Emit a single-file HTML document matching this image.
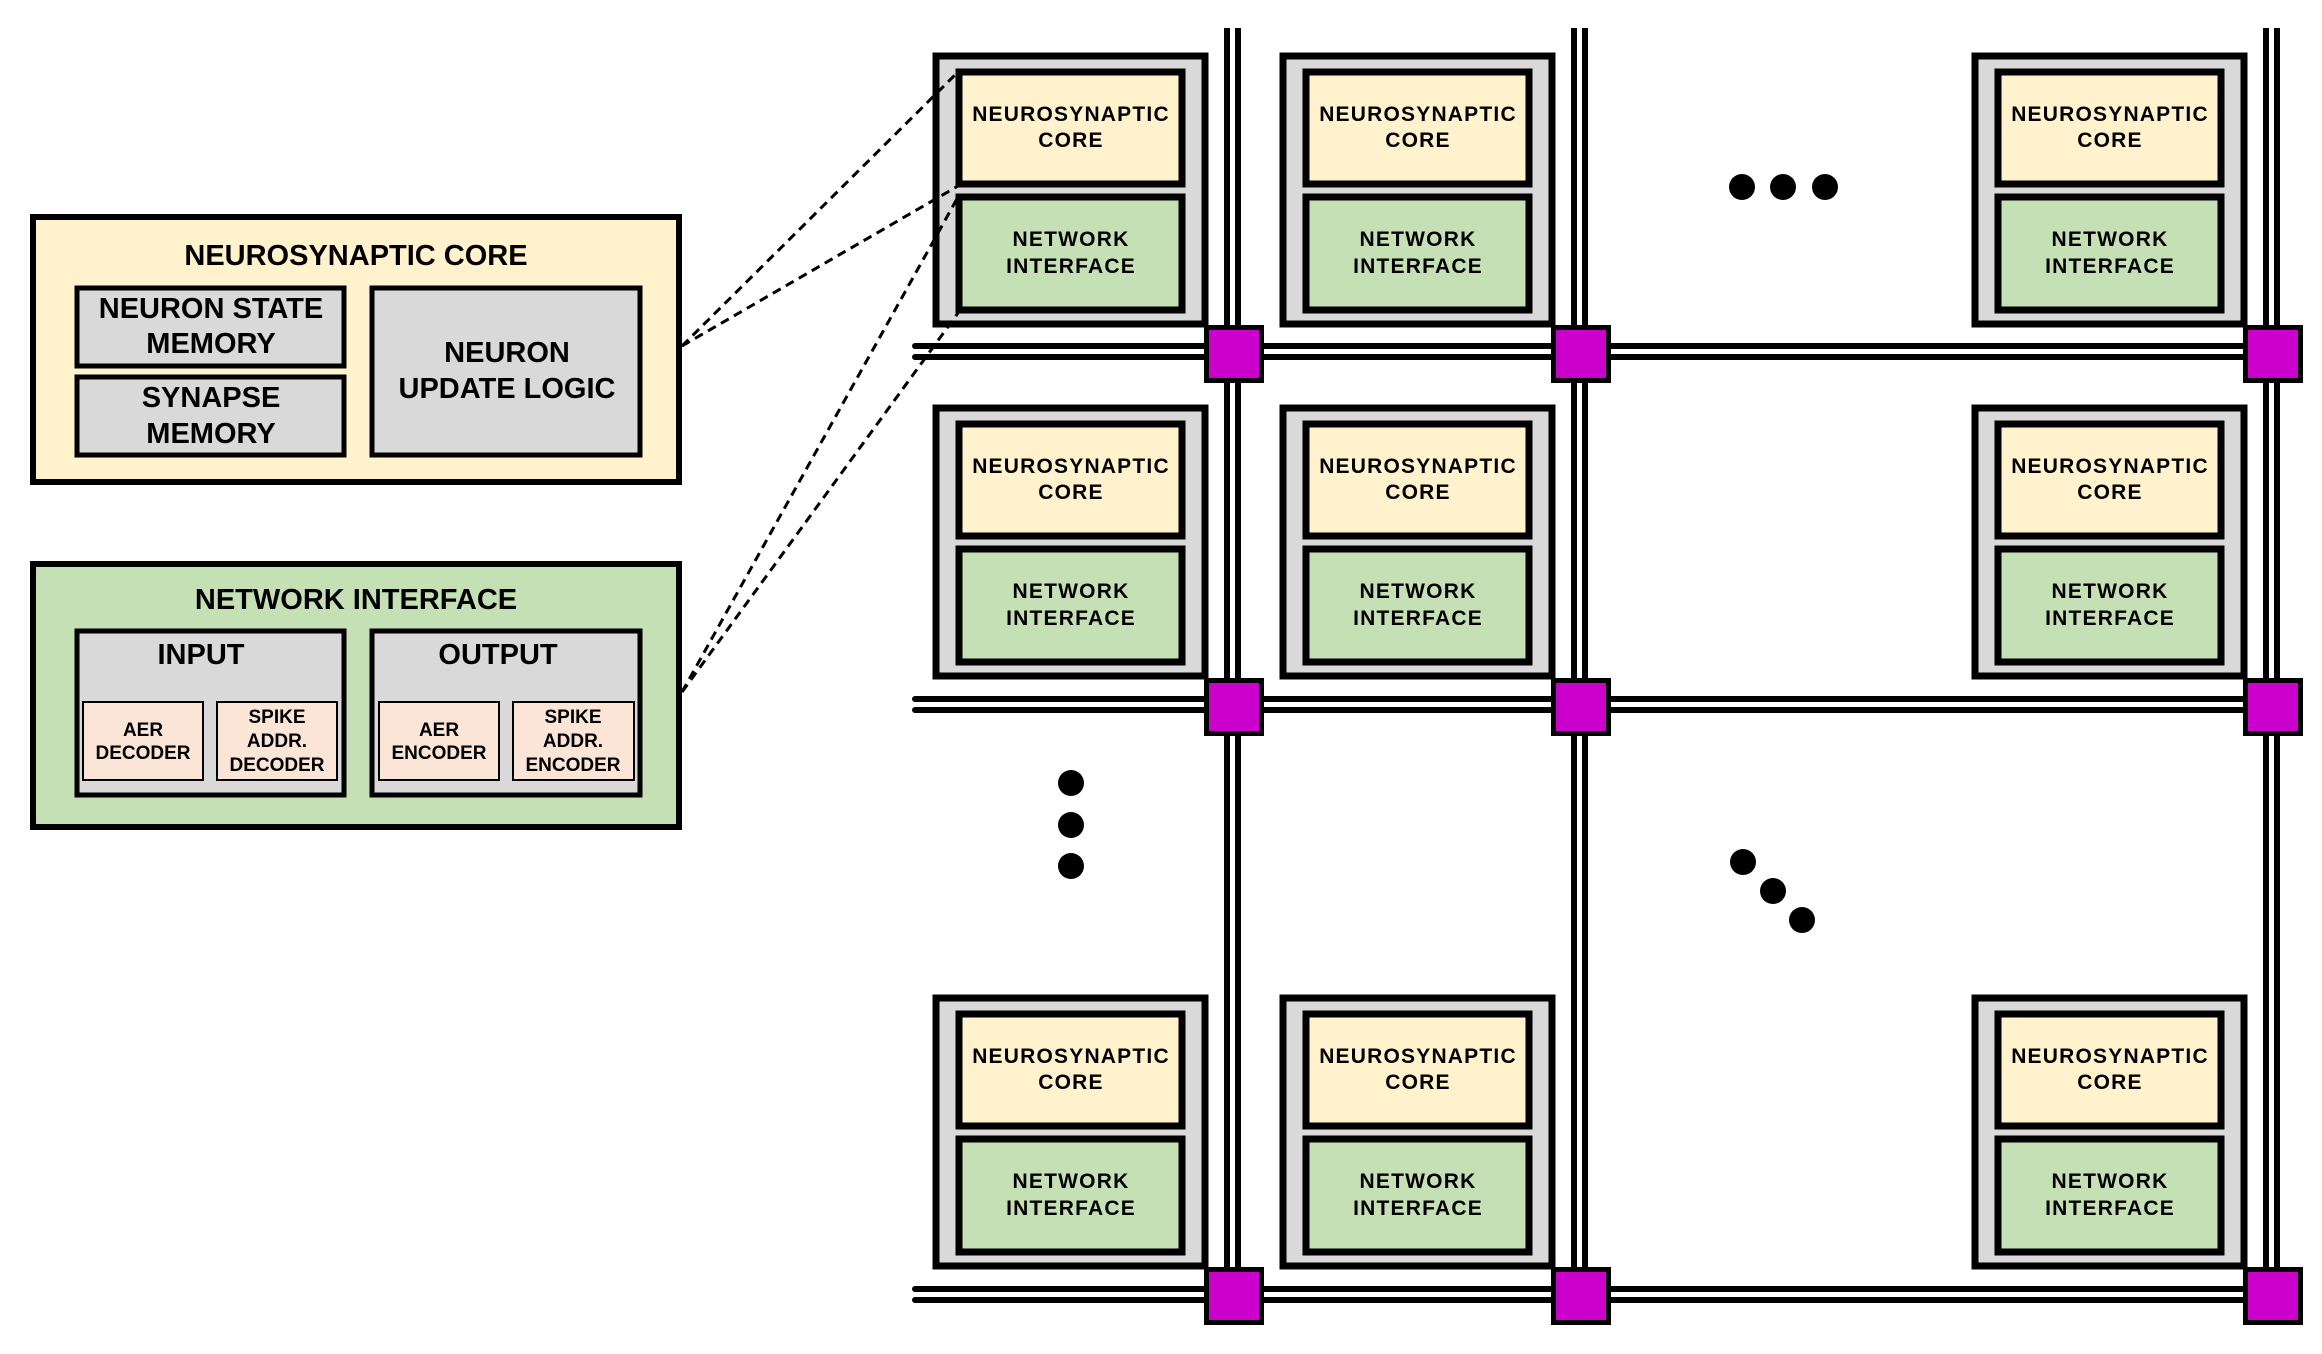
<!DOCTYPE html>
<html><head><meta charset="utf-8"><style>
html,body{margin:0;padding:0;background:#fff;}
svg{display:block;}
text{font-family:"Liberation Sans",Arial,sans-serif;font-weight:bold;fill:#000;text-anchor:middle;}
.t{font-size:21px;letter-spacing:1.2px;}
</style></head><body>
<svg width="2322" height="1354" viewBox="0 0 2322 1354" xmlns="http://www.w3.org/2000/svg">
<rect x="33" y="217" width="646" height="265" fill="#FFF2CC" stroke="#000" stroke-width="6"/>
<text x="356" y="265" font-size="29">NEUROSYNAPTIC CORE</text>
<rect x="77" y="288" width="267" height="78" fill="#D9D9D9" stroke="#000" stroke-width="5"/>
<text x="211" y="318" font-size="29">NEURON STATE</text>
<text x="211" y="353" font-size="29">MEMORY</text>
<rect x="77" y="377" width="267" height="78" fill="#D9D9D9" stroke="#000" stroke-width="5"/>
<text x="211" y="407" font-size="29">SYNAPSE</text>
<text x="211" y="443" font-size="29">MEMORY</text>
<rect x="372" y="288" width="268" height="167" fill="#D9D9D9" stroke="#000" stroke-width="5"/>
<text x="507" y="362" font-size="29">NEURON</text>
<text x="507" y="398" font-size="29">UPDATE LOGIC</text>

<rect x="33" y="564" width="646" height="263" fill="#C5E0B4" stroke="#000" stroke-width="6"/>
<text x="356" y="609" font-size="29">NETWORK INTERFACE</text>
<rect x="77" y="631" width="267" height="164" fill="#D9D9D9" stroke="#000" stroke-width="5"/>
<text x="201" y="664" font-size="29">INPUT</text>
<rect x="372" y="631" width="268" height="164" fill="#D9D9D9" stroke="#000" stroke-width="5"/>
<text x="498" y="664" font-size="29">OUTPUT</text>
<rect x="83" y="702" width="120" height="78" fill="#FBE5D6" stroke="#000" stroke-width="2"/>
<text x="143" y="736" font-size="19">AER</text><text x="143" y="759" font-size="19">DECODER</text>
<rect x="217" y="702" width="120" height="78" fill="#FBE5D6" stroke="#000" stroke-width="2"/>
<text x="277" y="723" font-size="19">SPIKE</text><text x="277" y="747" font-size="19">ADDR.</text><text x="277" y="771" font-size="19">DECODER</text>
<rect x="379" y="702" width="120" height="78" fill="#FBE5D6" stroke="#000" stroke-width="2"/>
<text x="439" y="736" font-size="19">AER</text><text x="439" y="759" font-size="19">ENCODER</text>
<rect x="513" y="702" width="121" height="78" fill="#FBE5D6" stroke="#000" stroke-width="2"/>
<text x="573" y="723" font-size="19">SPIKE</text><text x="573" y="747" font-size="19">ADDR.</text><text x="573" y="771" font-size="19">ENCODER</text>

<g fill="#000">
<rect x="1224" y="28" width="6" height="1240"/><rect x="1235" y="28" width="6" height="1240"/>
<rect x="1571" y="28" width="6" height="1240"/><rect x="1582" y="28" width="6" height="1240"/>
<rect x="2263" y="28" width="6" height="1240"/><rect x="2274" y="28" width="6" height="1240"/>
<rect x="912" y="343" width="1360" height="6" rx="3"/><rect x="912" y="354" width="1360" height="6" rx="3"/>
<rect x="912" y="696" width="1360" height="6" rx="3"/><rect x="912" y="707" width="1360" height="6" rx="3"/>
<rect x="912" y="1286" width="1360" height="6" rx="3"/><rect x="912" y="1297" width="1360" height="6" rx="3"/>
</g>

<defs>
<g id="tile">
<rect x="3" y="3" width="269" height="268" fill="#D9D9D9" stroke="#000" stroke-width="7"/>
<rect x="26" y="19" width="223" height="112" fill="#FFF2CC" stroke="#000" stroke-width="7"/>
<text class="t" x="138" y="68">NEUROSYNAPTIC</text>
<text class="t" x="138" y="94">CORE</text>
<rect x="26" y="144" width="223" height="113" fill="#C5E0B4" stroke="#000" stroke-width="7"/>
<text class="t" x="138" y="193">NETWORK</text>
<text class="t" x="138" y="220">INTERFACE</text>
</g>
<rect id="router" x="2.5" y="2.5" width="55" height="53" fill="#CC00CC" stroke="#000" stroke-width="5"/>
</defs>
<use href="#tile" x="933" y="53"/><use href="#tile" x="1280" y="53"/><use href="#tile" x="1972" y="53"/>
<use href="#tile" x="933" y="405"/><use href="#tile" x="1280" y="405"/><use href="#tile" x="1972" y="405"/>
<use href="#tile" x="933" y="995"/><use href="#tile" x="1280" y="995"/><use href="#tile" x="1972" y="995"/>

<use href="#router" x="1204" y="325"/><use href="#router" x="1551" y="325"/><use href="#router" x="2243" y="325"/>
<use href="#router" x="1204" y="678"/><use href="#router" x="1551" y="678"/><use href="#router" x="2243" y="678"/>
<use href="#router" x="1204" y="1267"/><use href="#router" x="1551" y="1267"/><use href="#router" x="2243" y="1267"/>

<g stroke="#000" stroke-width="3" stroke-dasharray="9,6" fill="none">
<line x1="682" y1="346" x2="958" y2="72"/>
<line x1="682" y1="346" x2="958" y2="186"/>
<line x1="682" y1="692" x2="958" y2="197"/>
<line x1="682" y1="692" x2="958" y2="313"/>
</g>

<g fill="#000">
<circle cx="1742" cy="187" r="13"/><circle cx="1783" cy="187" r="13"/><circle cx="1825" cy="187" r="13"/>
<circle cx="1071" cy="783" r="13"/><circle cx="1071" cy="825" r="13"/><circle cx="1071" cy="866" r="13"/>
<circle cx="1743" cy="862" r="13"/><circle cx="1773" cy="891" r="13"/><circle cx="1802" cy="920" r="13"/>
</g>
</svg>
</body></html>
